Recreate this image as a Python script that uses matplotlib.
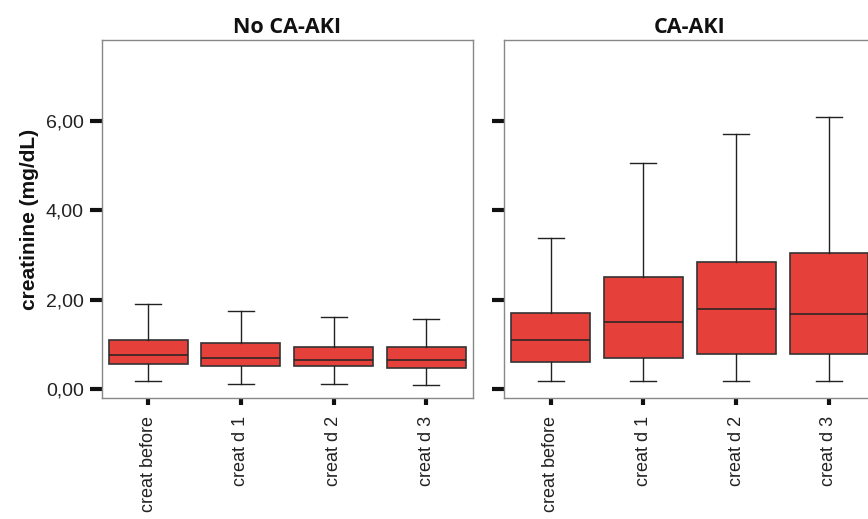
import matplotlib
matplotlib.use("Agg")
import matplotlib.pyplot as plt
from matplotlib import font_manager as fm

categories = ["creat before", "creat d 1", "creat d 2", "creat d 3"]
panels = ["No CA-AKI", "CA-AKI"]

# per panel: whisker low, Q1, median, Q3, whisker high
no_low = [0.19, 0.12, 0.12, 0.08]
no_q1 = [0.55, 0.51, 0.51, 0.48]
no_med = [0.77, 0.69, 0.66, 0.66]
no_q3 = [1.10, 1.02, 0.95, 0.95]
no_high = [1.90, 1.75, 1.60, 1.57]

aki_low = [0.19, 0.19, 0.19, 0.19]
aki_q1 = [0.60, 0.69, 0.78, 0.78]
aki_med = [1.10, 1.50, 1.78, 1.68]
aki_q3 = [1.71, 2.51, 2.84, 3.05]
aki_high = [3.38, 5.05, 5.71, 6.07]

yticks = [0, 2, 4, 6]
ytick_labels = ["0,00", "2,00", "4,00", "6,00"]


def find_font(family, bold):
    for f in fm.fontManager.ttflist:
        if f.name == family and (f.weight in ("bold", 700)) == bold and f.style == "normal":
            return f.fname
    return None


reg_file = find_font("Liberation Sans", False)
bold_file = find_font("Liberation Sans", True)
fp_reg = fm.FontProperties(fname=reg_file) if reg_file else fm.FontProperties(family="Liberation Sans")
fp_bold = fm.FontProperties(fname=bold_file) if bold_file else fm.FontProperties(family="Liberation Sans", weight="bold")

fig = plt.figure(figsize=(8.68, 5.19), dpi=100)
ax1 = fig.add_axes([0.1172, 0.2331, 0.4274, 0.6898])
ax2 = fig.add_axes([0.581, 0.2331, 0.4274, 0.6898])

data = [
    (no_low, no_q1, no_med, no_q3, no_high),
    (aki_low, aki_q1, aki_med, aki_q3, aki_high),
]

for ax, title, (lo, q1, med, q3, hi) in zip([ax1, ax2], panels, data):
    stats = []
    for i, c in enumerate(categories):
        stats.append(dict(label=c, whislo=lo[i], q1=q1[i], med=med[i],
                          q3=q3[i], whishi=hi[i], fliers=[]))
    ax.bxp(stats, positions=[1, 2, 3, 4], widths=0.85, patch_artist=True,
           showfliers=False,
           boxprops=dict(facecolor="#E5403A", edgecolor="#333333", linewidth=1.2),
           medianprops=dict(color="#222222", linewidth=1.1),
           whiskerprops=dict(color="#222222", linewidth=1.0),
           capprops=dict(color="#222222", linewidth=1.0),
           capwidths=0.28)
    ax.set_xlim(0.5, 4.5)
    ax.set_ylim(-0.2, 7.8)
    ax.set_yticks(yticks)
    ax.set_xticks([1, 2, 3, 4])
    ax.set_xticklabels(categories, rotation=90, color="#222222")
    for lab in ax.get_xticklabels():
        lab.set_fontproperties(fp_reg)
        lab.set_fontsize(13)
    for s in ax.spines.values():
        s.set_color("#888888")
        s.set_linewidth(1.0)
    ax.tick_params(axis="y", length=9, width=3, color="#111111", pad=4)
    ax.tick_params(axis="x", length=5, width=3, color="#111111", pad=8)
    ax.set_title(title, fontsize=15.5, fontweight="bold", family="Open Sans",
                 color="#111111", pad=5)

ax1.set_yticklabels(ytick_labels, color="#222222")
for lab in ax1.get_yticklabels():
    lab.set_fontproperties(fp_reg)
    lab.set_fontsize(14)
ax2.set_yticklabels([])
ax1.set_ylabel("creatinine (mg/dL)", color="#111111", labelpad=5,
               fontproperties=fp_bold, fontsize=15)

fig.savefig("out.png", dpi=100)
